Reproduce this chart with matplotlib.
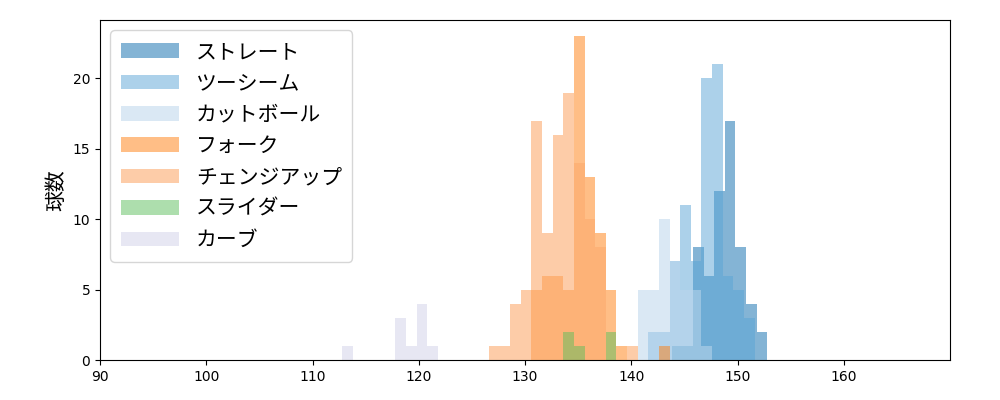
import numpy as np
import matplotlib
matplotlib.use("Agg")
from matplotlib import pyplot as plt

plt.rcParams['font.family'] = ['DejaVu Sans', 'Noto Sans CJK JP']

# bin left edges and counts per pitch type
straight_x = [143.8, 144.8, 145.8, 146.8, 147.8, 148.8, 149.8, 150.8, 151.8]
straight_n = [1, 1, 8, 6, 12, 17, 8, 4, 2]
twoseam_x = [141.6, 142.6, 143.6, 144.6, 145.6, 146.6, 147.6, 148.6, 149.6, 150.6]
twoseam_n = [2, 2, 7, 11, 7, 20, 21, 6, 5, 3]
cutter_x = [140.6, 141.6, 142.6, 143.6, 144.6, 145.6, 146.6]
cutter_n = [5, 5, 10, 7, 5, 5, 1]
fork_x = [130.6, 131.6, 132.6, 133.6, 134.6, 135.6, 136.6, 137.6, 138.6, 142.6]
fork_n = [5, 6, 6, 5, 23, 13, 9, 5, 1, 1]
change_x = [126.6, 127.6, 128.6, 129.6, 130.6, 131.6, 132.6, 133.6, 134.6, 135.6, 136.6, 139.6]
change_n = [1, 1, 4, 5, 17, 9, 16, 19, 14, 10, 8, 1]
slider_x = [133.6, 134.6, 137.6]
slider_n = [2, 1, 2]
curve_x = [112.8, 117.8, 118.8, 119.8, 120.8]
curve_n = [1, 3, 1, 4, 1]

series = [
    ("ストレート", straight_x, straight_n, "#1f77b4", 0.55),
    ("ツーシーム", twoseam_x, twoseam_n, "#5aa5d6", 0.5),
    ("カットボール", cutter_x, cutter_n, "#bcd6ec", 0.55),
    ("フォーク", fork_x, fork_n, "#ff7f0e", 0.5),
    ("チェンジアップ", change_x, change_n, "#fdab6e", 0.6),
    ("スライダー", slider_x, slider_n, "#5cbf5c", 0.5),
    ("カーブ", curve_x, curve_n, "#d4d4ea", 0.55),
]

fig, ax = plt.subplots(figsize=(10, 4), dpi=100)
for name, xs, ns, col, a in series:
    xs = np.array(xs)
    bins = np.arange(xs.min(), xs.max() + 1.5, 1.0)
    ax.hist(xs + 0.5, bins=bins, weights=ns, color=col, alpha=a, label=name)

ax.set_xlim(90, 170)
ax.set_xticks(range(90, 170, 10))
ax.set_ylabel("球数", fontsize=15, family=['Noto Sans CJK JP'])
leg = ax.legend(loc="upper left", prop={'family': ['Noto Sans CJK JP'], 'size': 15},
                labelspacing=0.45, handlelength=2.8, borderpad=0.5)
plt.subplots_adjust(left=0.1, right=0.95, top=0.95, bottom=0.1)
plt.savefig("out.png")
